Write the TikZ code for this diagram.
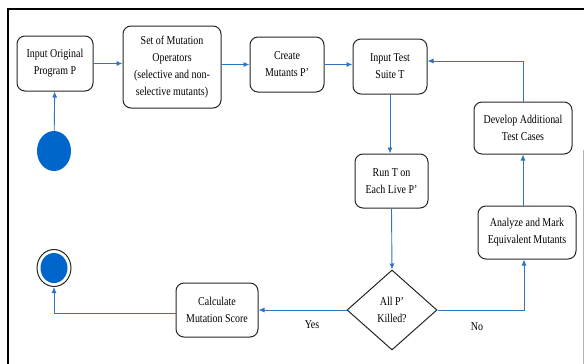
\documentclass[tikz,border=0pt]{standalone}
\usepackage{fontspec}
\setmainfont{Liberation Serif}[FakeStretch=0.83]
\usetikzlibrary{shapes.geometric,arrows.meta}
\definecolor{flow}{RGB}{46,117,190}
\definecolor{dot}{RGB}{0,102,204}
\begin{document}
\begin{tikzpicture}[x=1pt,y=-1pt,
  box/.style={draw=black!85,line width=1pt,rounded corners=8pt,align=center,
    inner sep=0pt,font=\fontsize{12}{17}\selectfont},
  dec/.style={draw=black!85,line width=1pt,diamond,align=center,inner sep=0pt,
    minimum width=90pt,minimum height=80pt,font=\fontsize{12}{17}\selectfont},
  conn/.style={draw=flow,line width=0.9pt,-{Latex[length=6pt,width=5pt]}},
  lbl/.style={font=\fontsize{12}{13}\selectfont,inner sep=0pt}]
\useasboundingbox (0,0) rectangle (584,364);
% frame
\draw[line width=2pt,black] (8,364) -- (8,9) -- (584,9);
\draw[line width=0.6pt,black!30] (583,150) -- (583,364);
% nodes
\node[box,minimum width=76pt,minimum height=55pt] (b1) at (55,63.5) {Input Original\\Program P};
\node[box,minimum width=98pt,minimum height=82pt] (b2) at (172,67) {Set of Mutation\\Operators\\(selective and non-\\selective mutants)};
\node[box,minimum width=74pt,minimum height=55pt] (b3) at (287,64.5) {Create\\Mutants P'};
\node[box,minimum width=74pt,minimum height=55pt] (b4) at (390,66.5) {Input Test\\Suite T};
\node[box,minimum width=73pt,minimum height=54pt] (b5) at (391.5,181) {Run T on\\Each Live P'};
\node[dec] (dia) at (392,310) {All P'\\Killed?};
\node[box,minimum width=98pt,minimum height=53pt] (an) at (527,232.5) {Analyze and Mark\\Equivalent Mutants};
\node[box,minimum width=98pt,minimum height=52pt] (dev) at (523,128) {Develop Additional\\Test Cases};
\node[box,minimum width=82pt,minimum height=54pt] (calc) at (217,310) {Calculate\\Mutation Score};
\node[ellipse,fill=dot,minimum width=34pt,minimum height=40pt,inner sep=0pt] (start) at (54,151) {};
\node[ellipse,draw=black!85,line width=1pt,minimum width=34pt,minimum height=37pt,inner sep=0pt] (end) at (54,268) {};
\node[ellipse,fill=dot,minimum width=27pt,minimum height=30pt,inner sep=0pt] (endin) at (54,268) {};
\node[lbl] (yes) at (312,325) {Yes};
\node[lbl] (no) at (477,327) {No};
% connectors
\draw[conn] (start) -- (b1);
\draw[conn] (b1.east) -- (b1.east -| b2.west);
\draw[conn] (b3.west -| b2.east) -- (b3.west);
\draw[conn] (b3.east) -- (b3.east -| b4.west);
\draw[conn] (b4.south) -- (b4.south |- b5.north);
\draw[conn] (b5.south) -- (dia.north);
\draw[conn] (dia.east) -| ([xshift=-3pt]an.south);
\draw[conn] (dev.south |- an.north) -- (dev.south);
\draw[conn] (dev.north) |- ([yshift=5.5pt]b4.east);
\draw[conn] (dia.west) -- (calc.east);
\draw[conn] ([yshift=-3pt]calc.west) -| (end.south);
\end{tikzpicture}
\end{document}
